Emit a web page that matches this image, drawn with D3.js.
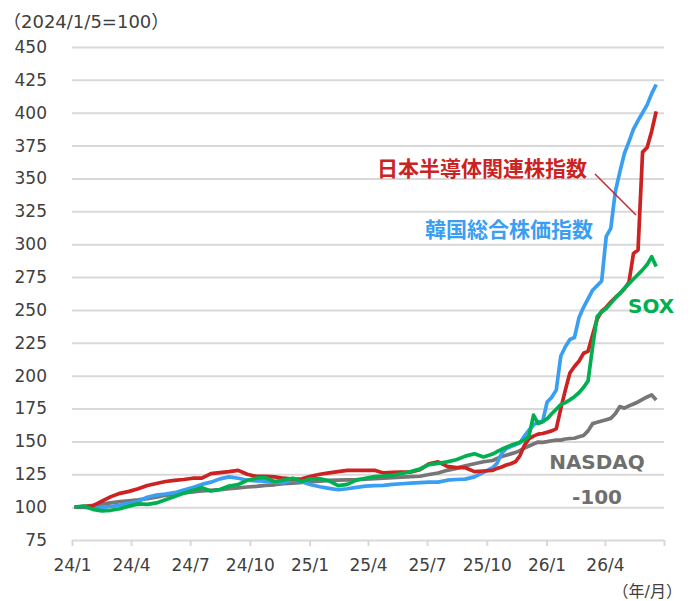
<!DOCTYPE html>
<html>
<head>
<meta charset="utf-8">
<script src="https://cdn.jsdelivr.net/npm/d3@7"></script>
<style>
  body { margin: 0; background: #fff; }
  svg { font-family: "DejaVu Sans", "Noto Sans CJK JP", sans-serif; }
</style>
</head>
<body>
<script>
var dates = [
  "2024-01-05","2024-01-19","2024-02-02","2024-02-16","2024-03-01","2024-03-15","2024-03-29","2024-04-12",
  "2024-04-26","2024-05-10","2024-05-24","2024-06-07","2024-06-21","2024-07-05","2024-07-19","2024-08-02",
  "2024-08-16","2024-08-30","2024-09-13","2024-09-27","2024-10-11","2024-10-25","2024-11-08","2024-11-22",
  "2024-12-06","2024-12-20","2025-01-03","2025-01-17","2025-01-31","2025-02-14","2025-02-28","2025-03-14",
  "2025-03-28","2025-04-11","2025-04-25","2025-05-09","2025-05-23","2025-06-06","2025-06-20","2025-07-04",
  "2025-07-18","2025-08-01","2025-08-15","2025-08-29","2025-09-12","2025-09-26",
  "2025-10-10","2025-10-17","2025-10-24","2025-10-31","2025-11-07","2025-11-14","2025-11-21","2025-11-28",
  "2025-12-05","2025-12-12","2025-12-19","2025-12-26","2026-01-02","2026-01-09","2026-01-16","2026-01-23",
  "2026-01-30","2026-02-06","2026-02-13","2026-02-20","2026-02-27","2026-03-06","2026-03-13","2026-03-20",
  "2026-03-27","2026-04-03","2026-04-10","2026-04-17","2026-04-24","2026-05-01","2026-05-08","2026-05-15",
  "2026-05-22","2026-05-29","2026-06-05","2026-06-12","2026-06-19"
];

// 日本半導体関連株指数
var jpSemi = [
  100,100.5,101,104.5,108,110.5,112,114,116.5,118,119.5,120.3,121,122,122,125.5,
  126.3,127,128,125,123.4,123.4,123,122,121.4,121.5,123.5,125,126,127,128,128,
  128,128,126,126.5,126.7,126.7,128.5,133,134.4,131,130,130,127,127.5,
  128,129.5,130.5,132,133,134.5,139,147,152,154,155.5,156,157,158,159.5,175,
  189,202,207,211,217,218.5,231,243,249,252,256,259.5,262.5,266,271,293,
  295.5,370,373.5,386,401
];

// 韓国総合株価指数
var kospi = [
  100,99.8,99.5,100,100.5,101.5,103,104.5,107.5,109.2,110,111,113,115,117.3,119,
  121.5,123,122,120.5,120,119.8,119,118.5,120.9,119.3,117,115.5,114.3,113.2,114,115,
  116,116.3,116.5,117.3,117.8,118.3,118.7,119,119,120.5,121,121.3,123,126.5,
  130,133.5,141,144.5,146,147.5,149,154,158.5,162.5,164.8,165,180,183.5,189,215,
  222,227.5,229,244,252,258.5,265,268.5,272,306,312,340,355,369,378,387.5,
  394,400,406,414.5,421.5
];

// SOX
var sox = [
  100,100.8,98.3,97.2,97.6,98.8,100.8,102.5,102.1,103.2,105.6,108,110.5,112.7,114.7,112.3,
  113.4,116,117.2,120.4,122,122.4,119.5,120.6,122,119.5,121.6,121.6,120,116.3,117.3,120.5,
  122,123.2,123.6,124.2,125.6,127,129,132.3,133.3,134.4,136,138.8,140.6,138.2,
  140.4,142.3,144,145.5,147,148.2,149.4,151,154,170,163.5,165,167.3,171,174.5,178,
  179.5,181.6,184,187,191,196,222,245,248.5,251,255,259,262.5,266.5,270,273.5,
  277,280.5,284.5,290.5,283
];

// NASDAQ-100
var nasdaq = [
  100,100.5,101.3,102.5,103.3,104.2,104.8,105.5,106.5,107.5,109,110,110.8,111.5,112.3,112.8,
  113.3,114,114.7,115.3,115.8,116.5,117,117.8,118.3,118.8,119.3,119.8,120.4,120.6,120.8,120.9,
  121.2,121.6,122,122.4,122.8,123.2,123.5,124.8,126,128,129.5,131.5,133,134.5,
  135.5,137,138.5,139.5,140.5,141.5,143,145,146.5,148,149.5,149.3,149.8,150.5,151,151,
  151.8,152.2,152.4,153.5,154.5,158,163.5,164.5,165.5,166.5,167.5,171,176.5,175.3,
  177,178.5,180,182,183.8,185.4,181.5
];

var yTicks = [75,100,125,150,175,200,225,250,275,300,325,350,375,400,425,450];
var xTickDates = ["2024-01-01","2024-04-01","2024-07-01","2024-10-01","2025-01-01","2025-04-01",
                  "2025-07-01","2025-10-01","2026-01-01","2026-04-01","2026-07-01"];
var xTickLabels = ["24/1","24/4","24/7","24/10","25/1","25/4","25/7","25/10","26/1","26/4",""];

var W = 691, H = 601;
var plotL = 72, plotR = 664, plotT = 47, plotB = 540;

var parse = d3.timeParse("%Y-%m-%d");

var x = d3.scaleTime()
  .domain([parse("2024-01-01"), parse("2026-07-01")])
  .range([plotL, plotR]);
var y = d3.scaleLinear().domain([75, 450]).range([plotB, plotT]);

var svg = d3.select("body").append("svg")
  .attr("width", W)
  .attr("height", H);

// grid + y labels
var yAxis = d3.axisLeft(y).tickValues(yTicks).tickSize(-(plotR - plotL)).tickPadding(25);
var gy = svg.append("g")
  .attr("transform", "translate(" + plotL + ",0)")
  .call(yAxis);
gy.select(".domain").remove();
gy.selectAll(".tick line").attr("stroke", "#d9d9d9").attr("stroke-width", 2);
gy.selectAll(".tick text").attr("fill", "#404040").style("font-size", "17px")
  .style("font-family", "DejaVu Sans");

// x axis
var xAxis = d3.axisBottom(x)
  .tickValues(xTickDates.map(parse))
  .tickSize(6)
  .tickPadding(13)
  .tickFormat(function(d, i) { return xTickLabels[i]; });
var gx = svg.append("g")
  .attr("transform", "translate(0," + plotB + ")")
  .call(xAxis);
gx.select(".domain").remove();
gx.selectAll(".tick line").attr("stroke", "#d9d9d9").attr("stroke-width", 2);
gx.selectAll(".tick text").attr("fill", "#404040").style("font-size", "17px")
  .style("font-family", "DejaVu Sans");

svg.append("text")
  .attr("x", 3).attr("y", 28)
  .attr("fill", "#404040")
  .style("font-size", "18px")
  .text("（2024/1/5=100）");

svg.append("text")
  .attr("x", 682).attr("y", 597)
  .attr("text-anchor", "end")
  .attr("fill", "#404040")
  .style("font-size", "16px")
  .text("（年/月）");

var series = [
  { name: "nasdaq", values: nasdaq, color: "#767676" },
  { name: "kospi", values: kospi, color: "#3a9ff2" },
  { name: "jpSemi", values: jpSemi, color: "#cc2222" },
  { name: "sox", values: sox, color: "#00b050" }
];

var line = d3.line()
  .x(function(d, i) { return x(parse(dates[i])); })
  .y(function(d) { return y(d); });

svg.selectAll(".series")
  .data(series)
  .enter().append("path")
  .attr("class", "series")
  .attr("fill", "none")
  .attr("stroke", function(d) { return d.color; })
  .attr("stroke-width", 3.7)
  .attr("stroke-linejoin", "round")
  .attr("d", function(d) { return line(d.values); });

// labels
svg.append("line")
  .attr("x1", 595).attr("y1", 174).attr("x2", 636).attr("y2", 215)
  .attr("stroke", "#cc2222").attr("stroke-width", 1.5);

svg.append("text")
  .attr("x", 377).attr("y", 176)
  .attr("fill", "#cc2222")
  .style("font-size", "21px").style("font-weight", "bold")
  .style("font-family", "Noto Sans CJK JP")
  .text("日本半導体関連株指数");

svg.append("text")
  .attr("x", 425).attr("y", 237)
  .attr("fill", "#3a9ff2")
  .style("font-size", "21px").style("font-weight", "bold")
  .style("font-family", "Noto Sans CJK JP")
  .text("韓国総合株価指数");

svg.append("text")
  .attr("x", 628).attr("y", 313)
  .attr("fill", "#00b050")
  .style("font-size", "20px").style("font-weight", "bold")
  .text("SOX");

svg.append("text")
  .attr("x", 597).attr("y", 469)
  .attr("text-anchor", "middle")
  .attr("fill", "#6f6f6f")
  .style("font-size", "20px").style("font-weight", "bold")
  .text("NASDAQ");

svg.append("text")
  .attr("x", 597).attr("y", 504)
  .attr("text-anchor", "middle")
  .attr("fill", "#6f6f6f")
  .style("font-size", "20px").style("font-weight", "bold")
  .text("-100");
</script>
</body>
</html>
